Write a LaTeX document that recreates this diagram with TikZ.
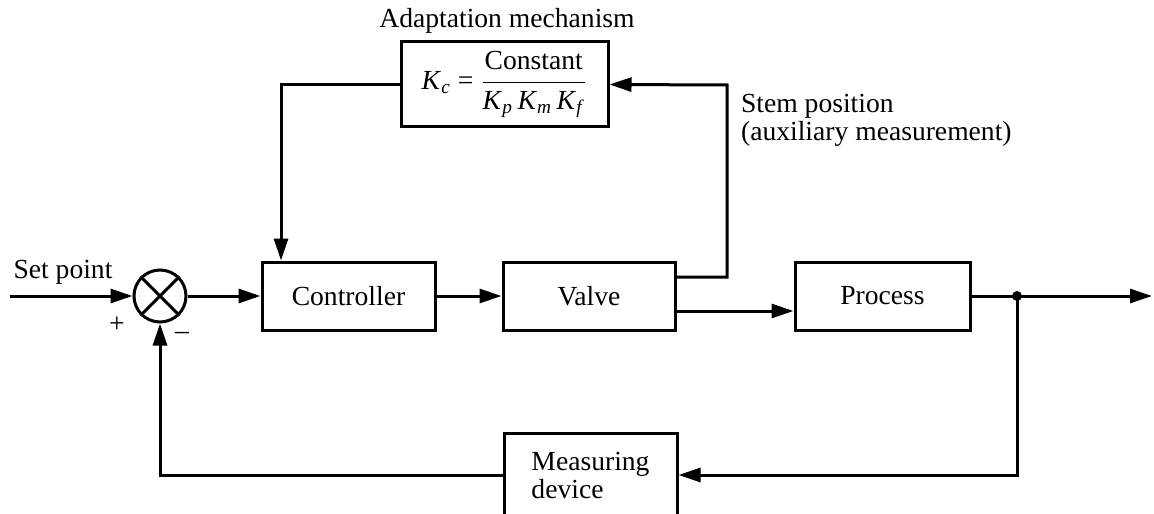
\documentclass[tikz,border=0pt]{standalone}
\usepackage{fontspec}
\setmainfont{Liberation Serif}
\usetikzlibrary{arrows.meta,calc}
\newcommand{\Kvar}[1]{\textit{K}\textsubscript{\textit{#1}}}
\begin{document}
\begin{tikzpicture}[x=0.5pt,y=-0.5pt,
  every node/.style={font=\fontsize{13.8pt}{14pt}\selectfont},
  box/.style={draw,line width=1.5pt,inner sep=0pt,minimum width=#1},
  box/.default=86.5pt,
  arr/.style={line width=1.5pt,-{Triangle[length=11pt,width=7pt]}},
  ln/.style={line width=1.5pt}]
\clip (0,0) rectangle (1154,513);
% blocks
\node[circle,draw,line width=1.5pt,minimum size=26pt,inner sep=0pt] (sum) at (160,296) {};
\draw[ln] (sum.north east) -- (sum.south west) (sum.north west) -- (sum.south east);
\node[box=86.5pt,minimum height=34pt] (ctrl) at (348.5,296) {Controller};
\node[box=86pt,minimum height=34pt] (valve) at (589,296) {Valve};
\node[box=87.5pt,minimum height=34pt] (proc) at (882.5,296) {Process};
\node[box=103.5pt,minimum height=42.5pt] (adapt) at (504.5,84.5)
  {\Kvar{c} = $\displaystyle\frac{\mbox{Constant}}{\mbox{\Kvar{p}\,\Kvar{m}\,\Kvar{f}}}$};
\node[box=86.5pt,minimum height=42pt,align=left] (meas) at (590.5,475) {Measuring\\device};
% labels
\node (lbladapt) at (507,21) {Adaptation mechanism};
\node[anchor=west,align=left] (lblstem) at (734,120) {Stem position\\(auxiliary measurement)};
\node (lblsp) at (63,272) {Set point};
\node (lblplus) at (117,325) {+};
\node (lblminus) at (182,336) {–};
% coordinates
\coordinate (spin) at (10,296);
\coordinate (out) at (1152,296);
\coordinate (junc) at (1017,296);
\coordinate (stemcorner) at (727,85);
\fill (junc) circle (5);
% connectors
\draw[arr] (spin) -- (sum.west);
\draw[arr] (sum.east) -- (ctrl.west);
\draw[arr] (ctrl.east) -- (valve.west);
\draw[arr] ([yshift=-7.5pt]valve.east) -- ([yshift=-7.5pt]proc.west);
\draw[arr] ([yshift=9.5pt]valve.east) -| (stemcorner) -- (adapt.east);
\draw[arr] (adapt.west) -| ([xshift=-33.75pt]ctrl.north);
\draw[arr] (proc.east) -- (out);
\draw[arr] (junc) |- (meas.east);
\draw[arr] (meas.west) -| (sum.south);
\end{tikzpicture}
\end{document}
